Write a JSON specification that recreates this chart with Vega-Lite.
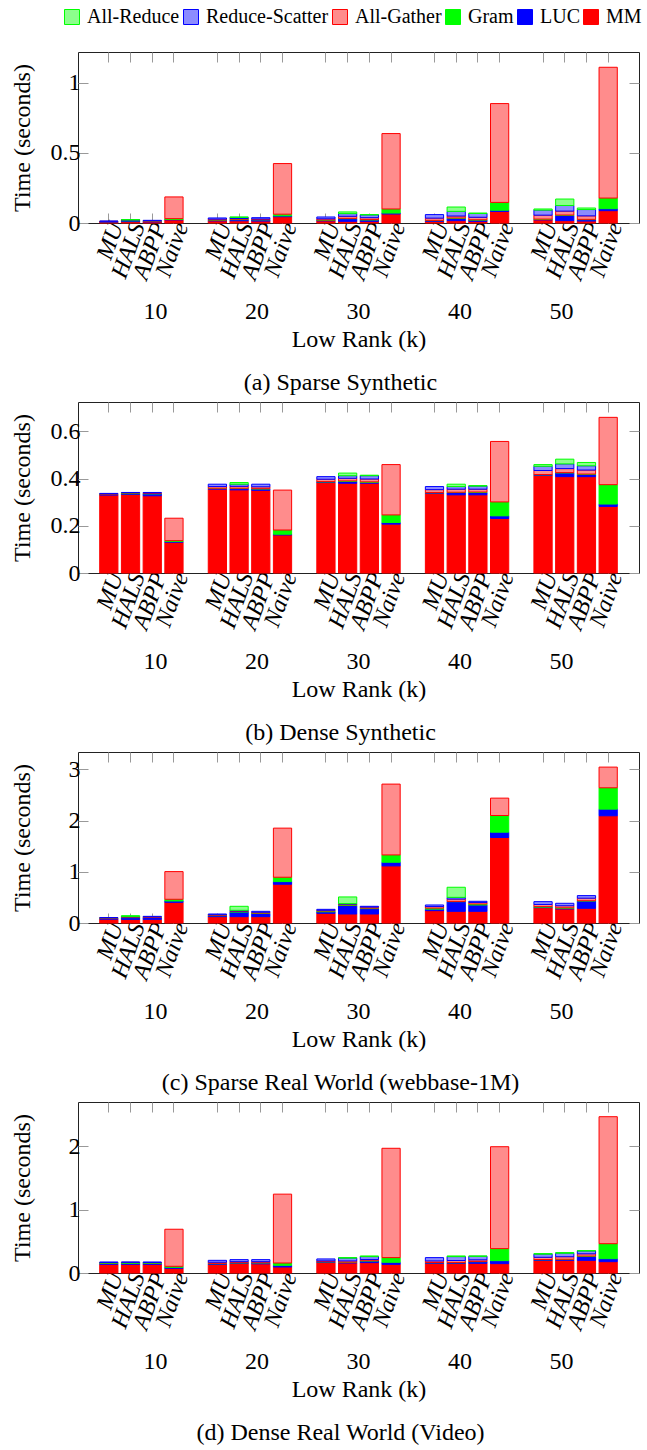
{
"$schema": "https://vega.github.io/schema/vega-lite/v6.json",
"padding": {"left": 9, "top": 7, "right": 0, "bottom": 0},
"background": "white",
"spacing": 5,
"config": {
  "view": {"stroke": "#222", "strokeWidth": 1},
  "font": "Liberation Serif",
  "axis": {"labelFont": "Liberation Serif", "titleFont": "Liberation Serif", "labelColor": "#000", "titleColor": "#000", "titleFontWeight": "normal", "grid": false, "domain": false, "tickColor": "#999", "labelFontSize": 24, "titleFontSize": 24},
  "legend": {"labelFont": "Liberation Serif", "labelColor": "#000"},
  "title": {"font": "Liberation Serif"},
  "text": {"font": "Liberation Serif"}
},
"data": {"values": [
{"p":"a","k":10,"m":"MU","MM":0.007,"LUC":0.003,"Gram":0.001,"All-Gather":0.001,"Reduce-Scatter":0.002,"All-Reduce":0},
{"p":"a","k":10,"m":"HALS","MM":0.010,"LUC":0.006,"Gram":0.004,"All-Gather":0.001,"Reduce-Scatter":0.001,"All-Reduce":0.002},
{"p":"a","k":10,"m":"ABPP","MM":0.008,"LUC":0.005,"Gram":0.001,"All-Gather":0.002,"Reduce-Scatter":0.003,"All-Reduce":0},
{"p":"a","k":10,"m":"Naive","MM":0.022,"LUC":0.003,"Gram":0.006,"All-Gather":0.155,"Reduce-Scatter":0,"All-Reduce":0},
{"p":"a","k":20,"m":"MU","MM":0.015,"LUC":0.006,"Gram":0.001,"All-Gather":0.006,"Reduce-Scatter":0.008,"All-Reduce":0},
{"p":"a","k":20,"m":"HALS","MM":0.016,"LUC":0.008,"Gram":0.003,"All-Gather":0.005,"Reduce-Scatter":0.008,"All-Reduce":0.003},
{"p":"a","k":20,"m":"ABPP","MM":0.014,"LUC":0.009,"Gram":0.001,"All-Gather":0.005,"Reduce-Scatter":0.009,"All-Reduce":0},
{"p":"a","k":20,"m":"Naive","MM":0.045,"LUC":0.006,"Gram":0.012,"All-Gather":0.361,"Reduce-Scatter":0,"All-Reduce":0},
{"p":"a","k":30,"m":"MU","MM":0.015,"LUC":0.005,"Gram":0.002,"All-Gather":0.008,"Reduce-Scatter":0.013,"All-Reduce":0},
{"p":"a","k":30,"m":"HALS","MM":0.012,"LUC":0.019,"Gram":0.002,"All-Gather":0.015,"Reduce-Scatter":0.019,"All-Reduce":0.012},
{"p":"a","k":30,"m":"ABPP","MM":0.012,"LUC":0.010,"Gram":0.002,"All-Gather":0.014,"Reduce-Scatter":0.020,"All-Reduce":0.002},
{"p":"a","k":30,"m":"Naive","MM":0.064,"LUC":0.007,"Gram":0.029,"All-Gather":0.538,"Reduce-Scatter":0,"All-Reduce":0},
{"p":"a","k":40,"m":"MU","MM":0.012,"LUC":0.005,"Gram":0.002,"All-Gather":0.016,"Reduce-Scatter":0.025,"All-Reduce":0},
{"p":"a","k":40,"m":"HALS","MM":0.017,"LUC":0.017,"Gram":0.002,"All-Gather":0.014,"Reduce-Scatter":0.033,"All-Reduce":0.031},
{"p":"a","k":40,"m":"ABPP","MM":0.012,"LUC":0.009,"Gram":0.002,"All-Gather":0.018,"Reduce-Scatter":0.027,"All-Reduce":0.003},
{"p":"a","k":40,"m":"Naive","MM":0.083,"LUC":0.008,"Gram":0.056,"All-Gather":0.705,"Reduce-Scatter":0,"All-Reduce":0},
{"p":"a","k":50,"m":"MU","MM":0.022,"LUC":0.004,"Gram":0.002,"All-Gather":0.028,"Reduce-Scatter":0.036,"All-Reduce":0.008},
{"p":"a","k":50,"m":"HALS","MM":0.017,"LUC":0.038,"Gram":0.002,"All-Gather":0.028,"Reduce-Scatter":0.040,"All-Reduce":0.046},
{"p":"a","k":50,"m":"ABPP","MM":0.014,"LUC":0.010,"Gram":0.002,"All-Gather":0.025,"Reduce-Scatter":0.045,"All-Reduce":0.011},
{"p":"a","k":50,"m":"Naive","MM":0.088,"LUC":0.014,"Gram":0.076,"All-Gather":0.933,"Reduce-Scatter":0,"All-Reduce":0},
{"p":"b","k":10,"m":"MU","MM":0.330,"LUC":0.003,"Gram":0.001,"All-Gather":0.001,"Reduce-Scatter":0.002,"All-Reduce":0},
{"p":"b","k":10,"m":"HALS","MM":0.333,"LUC":0.003,"Gram":0.003,"All-Gather":0.001,"Reduce-Scatter":0.001,"All-Reduce":0},
{"p":"b","k":10,"m":"ABPP","MM":0.327,"LUC":0.008,"Gram":0.002,"All-Gather":0.002,"Reduce-Scatter":0.002,"All-Reduce":0},
{"p":"b","k":10,"m":"Naive","MM":0.130,"LUC":0.003,"Gram":0.004,"All-Gather":0.095,"Reduce-Scatter":0,"All-Reduce":0},
{"p":"b","k":20,"m":"MU","MM":0.355,"LUC":0.003,"Gram":0.001,"All-Gather":0.007,"Reduce-Scatter":0.010,"All-Reduce":0},
{"p":"b","k":20,"m":"HALS","MM":0.352,"LUC":0.006,"Gram":0.001,"All-Gather":0.008,"Reduce-Scatter":0.009,"All-Reduce":0.007},
{"p":"b","k":20,"m":"ABPP","MM":0.350,"LUC":0.006,"Gram":0.001,"All-Gather":0.008,"Reduce-Scatter":0.011,"All-Reduce":0},
{"p":"b","k":20,"m":"Naive","MM":0.161,"LUC":0.003,"Gram":0.018,"All-Gather":0.169,"Reduce-Scatter":0,"All-Reduce":0},
{"p":"b","k":30,"m":"MU","MM":0.383,"LUC":0.003,"Gram":0.001,"All-Gather":0.010,"Reduce-Scatter":0.011,"All-Reduce":0},
{"p":"b","k":30,"m":"HALS","MM":0.380,"LUC":0.008,"Gram":0.002,"All-Gather":0.011,"Reduce-Scatter":0.011,"All-Reduce":0.011},
{"p":"b","k":30,"m":"ABPP","MM":0.380,"LUC":0.004,"Gram":0.002,"All-Gather":0.012,"Reduce-Scatter":0.014,"All-Reduce":0.002},
{"p":"b","k":30,"m":"Naive","MM":0.207,"LUC":0.007,"Gram":0.032,"All-Gather":0.213,"Reduce-Scatter":0,"All-Reduce":0},
{"p":"b","k":40,"m":"MU","MM":0.338,"LUC":0.002,"Gram":0.001,"All-Gather":0.012,"Reduce-Scatter":0.013,"All-Reduce":0},
{"p":"b","k":40,"m":"HALS","MM":0.331,"LUC":0.010,"Gram":0.001,"All-Gather":0.013,"Reduce-Scatter":0.011,"All-Reduce":0.010},
{"p":"b","k":40,"m":"ABPP","MM":0.331,"LUC":0.010,"Gram":0.002,"All-Gather":0.012,"Reduce-Scatter":0.013,"All-Reduce":0.002},
{"p":"b","k":40,"m":"Naive","MM":0.231,"LUC":0.011,"Gram":0.059,"All-Gather":0.256,"Reduce-Scatter":0,"All-Reduce":0},
{"p":"b","k":50,"m":"MU","MM":0.414,"LUC":0.002,"Gram":0.001,"All-Gather":0.017,"Reduce-Scatter":0.018,"All-Reduce":0.007},
{"p":"b","k":50,"m":"HALS","MM":0.408,"LUC":0.016,"Gram":0.001,"All-Gather":0.017,"Reduce-Scatter":0.020,"All-Reduce":0.020},
{"p":"b","k":50,"m":"ABPP","MM":0.408,"LUC":0.010,"Gram":0.001,"All-Gather":0.017,"Reduce-Scatter":0.018,"All-Reduce":0.014},
{"p":"b","k":50,"m":"Naive","MM":0.282,"LUC":0.010,"Gram":0.082,"All-Gather":0.285,"Reduce-Scatter":0,"All-Reduce":0},
{"p":"c","k":10,"m":"MU","MM":0.075,"LUC":0.018,"Gram":0.005,"All-Gather":0.004,"Reduce-Scatter":0.003,"All-Reduce":0},
{"p":"c","k":10,"m":"HALS","MM":0.072,"LUC":0.033,"Gram":0.010,"All-Gather":0.005,"Reduce-Scatter":0.008,"All-Reduce":0.015},
{"p":"c","k":10,"m":"ABPP","MM":0.072,"LUC":0.035,"Gram":0.005,"All-Gather":0.008,"Reduce-Scatter":0.010,"All-Reduce":0},
{"p":"c","k":10,"m":"Naive","MM":0.404,"LUC":0.026,"Gram":0.033,"All-Gather":0.541,"Reduce-Scatter":0,"All-Reduce":0},
{"p":"c","k":20,"m":"MU","MM":0.124,"LUC":0.020,"Gram":0.008,"All-Gather":0.010,"Reduce-Scatter":0.014,"All-Reduce":0},
{"p":"c","k":20,"m":"HALS","MM":0.124,"LUC":0.090,"Gram":0.010,"All-Gather":0.010,"Reduce-Scatter":0.014,"All-Reduce":0.078},
{"p":"c","k":20,"m":"ABPP","MM":0.124,"LUC":0.062,"Gram":0.008,"All-Gather":0.016,"Reduce-Scatter":0.018,"All-Reduce":0},
{"p":"c","k":20,"m":"Naive","MM":0.757,"LUC":0.052,"Gram":0.085,"All-Gather":0.959,"Reduce-Scatter":0,"All-Reduce":0},
{"p":"c","k":30,"m":"MU","MM":0.189,"LUC":0.030,"Gram":0.015,"All-Gather":0.015,"Reduce-Scatter":0.018,"All-Reduce":0},
{"p":"c","k":30,"m":"HALS","MM":0.176,"LUC":0.166,"Gram":0.012,"All-Gather":0.015,"Reduce-Scatter":0.010,"All-Reduce":0.130},
{"p":"c","k":30,"m":"ABPP","MM":0.176,"LUC":0.105,"Gram":0.010,"All-Gather":0.020,"Reduce-Scatter":0.015,"All-Reduce":0},
{"p":"c","k":30,"m":"Naive","MM":1.115,"LUC":0.072,"Gram":0.143,"All-Gather":1.383,"Reduce-Scatter":0,"All-Reduce":0},
{"p":"c","k":40,"m":"MU","MM":0.241,"LUC":0.030,"Gram":0.020,"All-Gather":0.030,"Reduce-Scatter":0.031,"All-Reduce":0},
{"p":"c","k":40,"m":"HALS","MM":0.228,"LUC":0.189,"Gram":0.005,"All-Gather":0.046,"Reduce-Scatter":0.033,"All-Reduce":0.197},
{"p":"c","k":40,"m":"ABPP","MM":0.228,"LUC":0.124,"Gram":0.020,"All-Gather":0.030,"Reduce-Scatter":0.022,"All-Reduce":0},
{"p":"c","k":40,"m":"Naive","MM":1.670,"LUC":0.104,"Gram":0.326,"All-Gather":0.339,"Reduce-Scatter":0,"All-Reduce":0},
{"p":"c","k":50,"m":"MU","MM":0.300,"LUC":0.010,"Gram":0.010,"All-Gather":0.042,"Reduce-Scatter":0.055,"All-Reduce":0},
{"p":"c","k":50,"m":"HALS","MM":0.274,"LUC":0.015,"Gram":0.008,"All-Gather":0.040,"Reduce-Scatter":0.048,"All-Reduce":0},
{"p":"c","k":50,"m":"ABPP","MM":0.287,"LUC":0.144,"Gram":0.004,"All-Gather":0.050,"Reduce-Scatter":0.050,"All-Reduce":0},
{"p":"c","k":50,"m":"Naive","MM":2.094,"LUC":0.130,"Gram":0.417,"All-Gather":0.404,"Reduce-Scatter":0,"All-Reduce":0},
{"p":"d","k":10,"m":"MU","MM":0.137,"LUC":0.015,"Gram":0.010,"All-Gather":0.004,"Reduce-Scatter":0.008,"All-Reduce":0},
{"p":"d","k":10,"m":"HALS","MM":0.137,"LUC":0.015,"Gram":0.012,"All-Gather":0.004,"Reduce-Scatter":0.006,"All-Reduce":0},
{"p":"d","k":10,"m":"ABPP","MM":0.137,"LUC":0.015,"Gram":0.010,"All-Gather":0.004,"Reduce-Scatter":0.008,"All-Reduce":0},
{"p":"d","k":10,"m":"Naive","MM":0.074,"LUC":0.016,"Gram":0.016,"All-Gather":0.585,"Reduce-Scatter":0,"All-Reduce":0},
{"p":"d","k":20,"m":"MU","MM":0.137,"LUC":0.010,"Gram":0.005,"All-Gather":0.018,"Reduce-Scatter":0.030,"All-Reduce":0},
{"p":"d","k":20,"m":"HALS","MM":0.153,"LUC":0.008,"Gram":0.003,"All-Gather":0.015,"Reduce-Scatter":0.032,"All-Reduce":0},
{"p":"d","k":20,"m":"ABPP","MM":0.145,"LUC":0.015,"Gram":0.003,"All-Gather":0.016,"Reduce-Scatter":0.032,"All-Reduce":0},
{"p":"d","k":20,"m":"Naive","MM":0.095,"LUC":0.026,"Gram":0.037,"All-Gather":1.087,"Reduce-Scatter":0,"All-Reduce":0},
{"p":"d","k":30,"m":"MU","MM":0.169,"LUC":0.008,"Gram":0.003,"All-Gather":0.012,"Reduce-Scatter":0.030,"All-Reduce":0},
{"p":"d","k":30,"m":"HALS","MM":0.158,"LUC":0.010,"Gram":0.003,"All-Gather":0.020,"Reduce-Scatter":0.045,"All-Reduce":0.007},
{"p":"d","k":30,"m":"ABPP","MM":0.164,"LUC":0.026,"Gram":0.004,"All-Gather":0.020,"Reduce-Scatter":0.045,"All-Reduce":0.010},
{"p":"d","k":30,"m":"Naive","MM":0.137,"LUC":0.032,"Gram":0.074,"All-Gather":1.726,"Reduce-Scatter":0,"All-Reduce":0},
{"p":"d","k":40,"m":"MU","MM":0.153,"LUC":0.010,"Gram":0.003,"All-Gather":0.025,"Reduce-Scatter":0.052,"All-Reduce":0},
{"p":"d","k":40,"m":"HALS","MM":0.153,"LUC":0.010,"Gram":0.004,"All-Gather":0.030,"Reduce-Scatter":0.062,"All-Reduce":0.010},
{"p":"d","k":40,"m":"ABPP","MM":0.153,"LUC":0.026,"Gram":0.004,"All-Gather":0.025,"Reduce-Scatter":0.055,"All-Reduce":0.006},
{"p":"d","k":40,"m":"Naive","MM":0.148,"LUC":0.047,"Gram":0.190,"All-Gather":1.609,"Reduce-Scatter":0,"All-Reduce":0},
{"p":"d","k":50,"m":"MU","MM":0.200,"LUC":0.010,"Gram":0.003,"All-Gather":0.035,"Reduce-Scatter":0.050,"All-Reduce":0.008},
{"p":"d","k":50,"m":"HALS","MM":0.200,"LUC":0.012,"Gram":0.005,"All-Gather":0.040,"Reduce-Scatter":0.055,"All-Reduce":0.010},
{"p":"d","k":50,"m":"ABPP","MM":0.200,"LUC":0.063,"Gram":0.005,"All-Gather":0.035,"Reduce-Scatter":0.045,"All-Reduce":0.006},
{"p":"d","k":50,"m":"Naive","MM":0.179,"LUC":0.047,"Gram":0.237,"All-Gather":2.005,"Reduce-Scatter":0,"All-Reduce":0}
]},
"vconcat": [
{
  "width": 561, "height": 171,
  "title": {"text": "(a) Sparse Synthetic", "orient": "bottom", "anchor": "middle", "frame": "group", "font": "Liberation Serif", "fontSize": 24, "fontWeight": "normal", "color": "#000", "dx": -18, "offset": 20},
  "transform": [
    {"filter": "datum.p == 'a'"},
    {"fold": ["MM","LUC","Gram","All-Gather","Reduce-Scatter","All-Reduce"], "as": ["comp","t"]},
    {"filter": "datum.t > 0"},
    {"calculate": "indexof(['MM','LUC','Gram','All-Gather','Reduce-Scatter','All-Reduce'], datum.comp)", "as": "ord"},
    {"calculate": "datum.k + '-' + datum.m", "as": "key"}
  ],
  "layer": [
    {
      "mark": {"type": "bar", "strokeWidth": 1},
      "encoding": {
        "x": {"field": "key", "type": "nominal", "scale": {"type": "band", "domain": ["10-MU","10-HALS","10-ABPP","10-Naive","g1","20-MU","20-HALS","20-ABPP","20-Naive","g2","30-MU","30-HALS","30-ABPP","30-Naive","g3","40-MU","40-HALS","40-ABPP","40-Naive","g4","50-MU","50-HALS","50-ABPP","50-Naive"], "paddingInner": 0.16, "paddingOuter": 1.895},
          "axis": {"orient": "bottom", "values": ["10-MU","10-HALS","10-ABPP","10-Naive","20-MU","20-HALS","20-ABPP","20-Naive","30-MU","30-HALS","30-ABPP","30-Naive","40-MU","40-HALS","40-ABPP","40-Naive","50-MU","50-HALS","50-ABPP","50-Naive"], "labelExpr": "split(datum.value, '-')[1]", "labelAngle": -70, "labelAlign": "right", "labelBaseline": "middle", "labelFont": "Liberation Serif", "labelFontSize": 24, "labelFontStyle": "italic", "labelColor": "#000", "labelPadding": 10, "labelOffset": 8, "tickSize": -10, "tickColor": "#999", "domain": false, "grid": false, "title": null}},
        "y": {"field": "t", "type": "quantitative", "stack": "zero", "scale": {"domain": [0, 1.22], "nice": false},
          "axis": {"orient": "left", "values": [0, 0.5, 1], "format": "~g", "labelFont": "Liberation Serif", "labelFontSize": 24, "labelColor": "#000", "labelPadding": 8, "tickSize": -10, "tickColor": "#999", "domain": false, "grid": false, "title": "Time (seconds)", "titleFont": "Liberation Serif", "titleFontSize": 24, "titleFontWeight": "normal", "titleColor": "#000", "titleX": -44}},
        "fill": {"field": "comp", "type": "nominal", "scale": {"domain": ["All-Reduce","Reduce-Scatter","All-Gather","Gram","LUC","MM"], "range": ["#8cff8c","#8c8cff","#ff8c8c","#00ff00","#0000ff","#ff0000"]},
          "legend": {"title": null, "orient": "none", "legendX": -16, "legendY": -45, "direction": "horizontal", "columns": 6, "symbolType": "square", "symbolSize": 225, "symbolStrokeWidth": 1, "labelFont": "Liberation Serif", "labelFontSize": 20, "labelColor": "#000", "labelOffset": 5, "columnPadding": 1, "padding": 0}},
        "stroke": {"field": "comp", "type": "nominal", "scale": {"domain": ["All-Reduce","Reduce-Scatter","All-Gather","Gram","LUC","MM"], "range": ["#00ff00","#0000ff","#ff0000","#00ff00","#0000ff","#ff0000"]},
          "legend": {"title": null, "orient": "none", "legendX": -16, "legendY": -45, "direction": "horizontal", "columns": 6, "symbolType": "square", "symbolSize": 225, "symbolStrokeWidth": 1, "labelFont": "Liberation Serif", "labelFontSize": 20, "labelColor": "#000", "labelOffset": 5, "columnPadding": 1, "padding": 0}},
        "order": {"field": "ord", "type": "quantitative"}
      }
    },
    {
      "mark": {"type": "text", "text": " ", "opacity": 0},
      "encoding": {
        "x": {"field": "k", "type": "ordinal", "scale": {"type": "band", "paddingInner": 0, "paddingOuter": 0.2635},
          "axis": {"orient": "bottom", "ticks": false, "domain": false, "grid": false, "labelAngle": 0, "labelAlign": "center", "labelBaseline": "top", "labelFont": "Liberation Serif", "labelFontSize": 24, "labelColor": "#000", "labelPadding": 76, "title": "Low Rank (k)", "titleFont": "Liberation Serif", "titleFontSize": 24, "titleFontWeight": "normal", "titleColor": "#000", "titlePadding": 4}}
      }
    },
    {
      "mark": {"type": "point", "opacity": 0},
      "encoding": {
        "x": {"field": "key", "type": "nominal", "scale": {"type": "band", "domain": ["10-MU","10-HALS","10-ABPP","10-Naive","g1","20-MU","20-HALS","20-ABPP","20-Naive","g2","30-MU","30-HALS","30-ABPP","30-Naive","g3","40-MU","40-HALS","40-ABPP","40-Naive","g4","50-MU","50-HALS","50-ABPP","50-Naive"], "paddingInner": 0.16, "paddingOuter": 1.895},
          "axis": {"orient": "top", "values": ["10-MU","10-HALS","10-ABPP","10-Naive","20-MU","20-HALS","20-ABPP","20-Naive","30-MU","30-HALS","30-ABPP","30-Naive","40-MU","40-HALS","40-ABPP","40-Naive","50-MU","50-HALS","50-ABPP","50-Naive"], "labels": false, "tickSize": -10, "tickColor": "#999", "domain": false, "grid": false, "title": null}},
        "y": {"field": "t", "type": "quantitative", "axis": {"orient": "right", "values": [0, 0.5, 1], "labels": false, "tickSize": -10, "tickColor": "#999", "domain": false, "grid": false, "title": null}}
      }
    }
  ],
  "resolve": {"scale": {"x": "independent"}, "axis": {"x": "independent", "y": "independent"}}
},
{
  "width": 561, "height": 171,
  "title": {"text": "(b) Dense Synthetic", "orient": "bottom", "anchor": "middle", "frame": "group", "font": "Liberation Serif", "fontSize": 24, "fontWeight": "normal", "color": "#000", "dx": -18, "offset": 20},
  "transform": [
    {"filter": "datum.p == 'b'"},
    {"fold": ["MM","LUC","Gram","All-Gather","Reduce-Scatter","All-Reduce"], "as": ["comp","t"]},
    {"filter": "datum.t > 0"},
    {"calculate": "indexof(['MM','LUC','Gram','All-Gather','Reduce-Scatter','All-Reduce'], datum.comp)", "as": "ord"},
    {"calculate": "datum.k + '-' + datum.m", "as": "key"}
  ],
  "layer": [
    {
      "mark": {"type": "bar", "strokeWidth": 1},
      "encoding": {
        "x": {"field": "key", "type": "nominal", "scale": {"type": "band", "domain": ["10-MU","10-HALS","10-ABPP","10-Naive","g1","20-MU","20-HALS","20-ABPP","20-Naive","g2","30-MU","30-HALS","30-ABPP","30-Naive","g3","40-MU","40-HALS","40-ABPP","40-Naive","g4","50-MU","50-HALS","50-ABPP","50-Naive"], "paddingInner": 0.16, "paddingOuter": 1.895},
          "axis": {"orient": "bottom", "values": ["10-MU","10-HALS","10-ABPP","10-Naive","20-MU","20-HALS","20-ABPP","20-Naive","30-MU","30-HALS","30-ABPP","30-Naive","40-MU","40-HALS","40-ABPP","40-Naive","50-MU","50-HALS","50-ABPP","50-Naive"], "labelExpr": "split(datum.value, '-')[1]", "labelAngle": -70, "labelAlign": "right", "labelBaseline": "middle", "labelFont": "Liberation Serif", "labelFontSize": 24, "labelFontStyle": "italic", "labelColor": "#000", "labelPadding": 10, "labelOffset": 8, "tickSize": -10, "tickColor": "#999", "domain": false, "grid": false, "title": null}},
        "y": {"field": "t", "type": "quantitative", "stack": "zero", "scale": {"domain": [0, 0.724], "nice": false},
          "axis": {"orient": "left", "values": [0, 0.2, 0.4, 0.6], "format": "~g", "labelFont": "Liberation Serif", "labelFontSize": 24, "labelColor": "#000", "labelPadding": 8, "tickSize": -10, "tickColor": "#999", "domain": false, "grid": false, "title": "Time (seconds)", "titleFont": "Liberation Serif", "titleFontSize": 24, "titleFontWeight": "normal", "titleColor": "#000", "titleX": -44}},
        "fill": {"field": "comp", "type": "nominal", "scale": {"domain": ["All-Reduce","Reduce-Scatter","All-Gather","Gram","LUC","MM"], "range": ["#8cff8c","#8c8cff","#ff8c8c","#00ff00","#0000ff","#ff0000"]},
          "legend": {"title": null, "orient": "none", "legendX": -16, "legendY": -45, "direction": "horizontal", "columns": 6, "symbolType": "square", "symbolSize": 225, "symbolStrokeWidth": 1, "labelFont": "Liberation Serif", "labelFontSize": 20, "labelColor": "#000", "labelOffset": 5, "columnPadding": 1, "padding": 0}},
        "stroke": {"field": "comp", "type": "nominal", "scale": {"domain": ["All-Reduce","Reduce-Scatter","All-Gather","Gram","LUC","MM"], "range": ["#00ff00","#0000ff","#ff0000","#00ff00","#0000ff","#ff0000"]},
          "legend": {"title": null, "orient": "none", "legendX": -16, "legendY": -45, "direction": "horizontal", "columns": 6, "symbolType": "square", "symbolSize": 225, "symbolStrokeWidth": 1, "labelFont": "Liberation Serif", "labelFontSize": 20, "labelColor": "#000", "labelOffset": 5, "columnPadding": 1, "padding": 0}},
        "order": {"field": "ord", "type": "quantitative"}
      }
    },
    {
      "mark": {"type": "text", "text": " ", "opacity": 0},
      "encoding": {
        "x": {"field": "k", "type": "ordinal", "scale": {"type": "band", "paddingInner": 0, "paddingOuter": 0.2635},
          "axis": {"orient": "bottom", "ticks": false, "domain": false, "grid": false, "labelAngle": 0, "labelAlign": "center", "labelBaseline": "top", "labelFont": "Liberation Serif", "labelFontSize": 24, "labelColor": "#000", "labelPadding": 76, "title": "Low Rank (k)", "titleFont": "Liberation Serif", "titleFontSize": 24, "titleFontWeight": "normal", "titleColor": "#000", "titlePadding": 4}}
      }
    },
    {
      "mark": {"type": "point", "opacity": 0},
      "encoding": {
        "x": {"field": "key", "type": "nominal", "scale": {"type": "band", "domain": ["10-MU","10-HALS","10-ABPP","10-Naive","g1","20-MU","20-HALS","20-ABPP","20-Naive","g2","30-MU","30-HALS","30-ABPP","30-Naive","g3","40-MU","40-HALS","40-ABPP","40-Naive","g4","50-MU","50-HALS","50-ABPP","50-Naive"], "paddingInner": 0.16, "paddingOuter": 1.895},
          "axis": {"orient": "top", "values": ["10-MU","10-HALS","10-ABPP","10-Naive","20-MU","20-HALS","20-ABPP","20-Naive","30-MU","30-HALS","30-ABPP","30-Naive","40-MU","40-HALS","40-ABPP","40-Naive","50-MU","50-HALS","50-ABPP","50-Naive"], "labels": false, "tickSize": -10, "tickColor": "#999", "domain": false, "grid": false, "title": null}},
        "y": {"field": "t", "type": "quantitative", "axis": {"orient": "right", "values": [0, 0.2, 0.4, 0.6], "labels": false, "tickSize": -10, "tickColor": "#999", "domain": false, "grid": false, "title": null}}
      }
    }
  ],
  "resolve": {"scale": {"x": "independent"}, "axis": {"x": "independent", "y": "independent"}}
},
{
  "width": 561, "height": 171,
  "title": {"text": "(c) Sparse Real World (webbase-1M)", "orient": "bottom", "anchor": "middle", "frame": "group", "font": "Liberation Serif", "fontSize": 24, "fontWeight": "normal", "color": "#000", "dx": -18, "offset": 20},
  "transform": [
    {"filter": "datum.p == 'c'"},
    {"fold": ["MM","LUC","Gram","All-Gather","Reduce-Scatter","All-Reduce"], "as": ["comp","t"]},
    {"filter": "datum.t > 0"},
    {"calculate": "indexof(['MM','LUC','Gram','All-Gather','Reduce-Scatter','All-Reduce'], datum.comp)", "as": "ord"},
    {"calculate": "datum.k + '-' + datum.m", "as": "key"}
  ],
  "layer": [
    {
      "mark": {"type": "bar", "strokeWidth": 1},
      "encoding": {
        "x": {"field": "key", "type": "nominal", "scale": {"type": "band", "domain": ["10-MU","10-HALS","10-ABPP","10-Naive","g1","20-MU","20-HALS","20-ABPP","20-Naive","g2","30-MU","30-HALS","30-ABPP","30-Naive","g3","40-MU","40-HALS","40-ABPP","40-Naive","g4","50-MU","50-HALS","50-ABPP","50-Naive"], "paddingInner": 0.16, "paddingOuter": 1.895},
          "axis": {"orient": "bottom", "values": ["10-MU","10-HALS","10-ABPP","10-Naive","20-MU","20-HALS","20-ABPP","20-Naive","30-MU","30-HALS","30-ABPP","30-Naive","40-MU","40-HALS","40-ABPP","40-Naive","50-MU","50-HALS","50-ABPP","50-Naive"], "labelExpr": "split(datum.value, '-')[1]", "labelAngle": -70, "labelAlign": "right", "labelBaseline": "middle", "labelFont": "Liberation Serif", "labelFontSize": 24, "labelFontStyle": "italic", "labelColor": "#000", "labelPadding": 10, "labelOffset": 8, "tickSize": -10, "tickColor": "#999", "domain": false, "grid": false, "title": null}},
        "y": {"field": "t", "type": "quantitative", "stack": "zero", "scale": {"domain": [0, 3.34], "nice": false},
          "axis": {"orient": "left", "values": [0, 1, 2, 3], "format": "~g", "labelFont": "Liberation Serif", "labelFontSize": 24, "labelColor": "#000", "labelPadding": 8, "tickSize": -10, "tickColor": "#999", "domain": false, "grid": false, "title": "Time (seconds)", "titleFont": "Liberation Serif", "titleFontSize": 24, "titleFontWeight": "normal", "titleColor": "#000", "titleX": -44}},
        "fill": {"field": "comp", "type": "nominal", "scale": {"domain": ["All-Reduce","Reduce-Scatter","All-Gather","Gram","LUC","MM"], "range": ["#8cff8c","#8c8cff","#ff8c8c","#00ff00","#0000ff","#ff0000"]},
          "legend": {"title": null, "orient": "none", "legendX": -16, "legendY": -45, "direction": "horizontal", "columns": 6, "symbolType": "square", "symbolSize": 225, "symbolStrokeWidth": 1, "labelFont": "Liberation Serif", "labelFontSize": 20, "labelColor": "#000", "labelOffset": 5, "columnPadding": 1, "padding": 0}},
        "stroke": {"field": "comp", "type": "nominal", "scale": {"domain": ["All-Reduce","Reduce-Scatter","All-Gather","Gram","LUC","MM"], "range": ["#00ff00","#0000ff","#ff0000","#00ff00","#0000ff","#ff0000"]},
          "legend": {"title": null, "orient": "none", "legendX": -16, "legendY": -45, "direction": "horizontal", "columns": 6, "symbolType": "square", "symbolSize": 225, "symbolStrokeWidth": 1, "labelFont": "Liberation Serif", "labelFontSize": 20, "labelColor": "#000", "labelOffset": 5, "columnPadding": 1, "padding": 0}},
        "order": {"field": "ord", "type": "quantitative"}
      }
    },
    {
      "mark": {"type": "text", "text": " ", "opacity": 0},
      "encoding": {
        "x": {"field": "k", "type": "ordinal", "scale": {"type": "band", "paddingInner": 0, "paddingOuter": 0.2635},
          "axis": {"orient": "bottom", "ticks": false, "domain": false, "grid": false, "labelAngle": 0, "labelAlign": "center", "labelBaseline": "top", "labelFont": "Liberation Serif", "labelFontSize": 24, "labelColor": "#000", "labelPadding": 76, "title": "Low Rank (k)", "titleFont": "Liberation Serif", "titleFontSize": 24, "titleFontWeight": "normal", "titleColor": "#000", "titlePadding": 4}}
      }
    },
    {
      "mark": {"type": "point", "opacity": 0},
      "encoding": {
        "x": {"field": "key", "type": "nominal", "scale": {"type": "band", "domain": ["10-MU","10-HALS","10-ABPP","10-Naive","g1","20-MU","20-HALS","20-ABPP","20-Naive","g2","30-MU","30-HALS","30-ABPP","30-Naive","g3","40-MU","40-HALS","40-ABPP","40-Naive","g4","50-MU","50-HALS","50-ABPP","50-Naive"], "paddingInner": 0.16, "paddingOuter": 1.895},
          "axis": {"orient": "top", "values": ["10-MU","10-HALS","10-ABPP","10-Naive","20-MU","20-HALS","20-ABPP","20-Naive","30-MU","30-HALS","30-ABPP","30-Naive","40-MU","40-HALS","40-ABPP","40-Naive","50-MU","50-HALS","50-ABPP","50-Naive"], "labels": false, "tickSize": -10, "tickColor": "#999", "domain": false, "grid": false, "title": null}},
        "y": {"field": "t", "type": "quantitative", "axis": {"orient": "right", "values": [0, 1, 2, 3], "labels": false, "tickSize": -10, "tickColor": "#999", "domain": false, "grid": false, "title": null}}
      }
    }
  ],
  "resolve": {"scale": {"x": "independent"}, "axis": {"x": "independent", "y": "independent"}}
},
{
  "width": 561, "height": 171,
  "title": {"text": "(d) Dense Real World (Video)", "orient": "bottom", "anchor": "middle", "frame": "group", "font": "Liberation Serif", "fontSize": 24, "fontWeight": "normal", "color": "#000", "dx": -18, "offset": 20},
  "transform": [
    {"filter": "datum.p == 'd'"},
    {"fold": ["MM","LUC","Gram","All-Gather","Reduce-Scatter","All-Reduce"], "as": ["comp","t"]},
    {"filter": "datum.t > 0"},
    {"calculate": "indexof(['MM','LUC','Gram','All-Gather','Reduce-Scatter','All-Reduce'], datum.comp)", "as": "ord"},
    {"calculate": "datum.k + '-' + datum.m", "as": "key"}
  ],
  "layer": [
    {
      "mark": {"type": "bar", "strokeWidth": 1},
      "encoding": {
        "x": {"field": "key", "type": "nominal", "scale": {"type": "band", "domain": ["10-MU","10-HALS","10-ABPP","10-Naive","g1","20-MU","20-HALS","20-ABPP","20-Naive","g2","30-MU","30-HALS","30-ABPP","30-Naive","g3","40-MU","40-HALS","40-ABPP","40-Naive","g4","50-MU","50-HALS","50-ABPP","50-Naive"], "paddingInner": 0.16, "paddingOuter": 1.895},
          "axis": {"orient": "bottom", "values": ["10-MU","10-HALS","10-ABPP","10-Naive","20-MU","20-HALS","20-ABPP","20-Naive","30-MU","30-HALS","30-ABPP","30-Naive","40-MU","40-HALS","40-ABPP","40-Naive","50-MU","50-HALS","50-ABPP","50-Naive"], "labelExpr": "split(datum.value, '-')[1]", "labelAngle": -70, "labelAlign": "right", "labelBaseline": "middle", "labelFont": "Liberation Serif", "labelFontSize": 24, "labelFontStyle": "italic", "labelColor": "#000", "labelPadding": 10, "labelOffset": 8, "tickSize": -10, "tickColor": "#999", "domain": false, "grid": false, "title": null}},
        "y": {"field": "t", "type": "quantitative", "stack": "zero", "scale": {"domain": [0, 2.70], "nice": false},
          "axis": {"orient": "left", "values": [0, 1, 2], "format": "~g", "labelFont": "Liberation Serif", "labelFontSize": 24, "labelColor": "#000", "labelPadding": 8, "tickSize": -10, "tickColor": "#999", "domain": false, "grid": false, "title": "Time (seconds)", "titleFont": "Liberation Serif", "titleFontSize": 24, "titleFontWeight": "normal", "titleColor": "#000", "titleX": -44}},
        "fill": {"field": "comp", "type": "nominal", "scale": {"domain": ["All-Reduce","Reduce-Scatter","All-Gather","Gram","LUC","MM"], "range": ["#8cff8c","#8c8cff","#ff8c8c","#00ff00","#0000ff","#ff0000"]},
          "legend": {"title": null, "orient": "none", "legendX": -16, "legendY": -45, "direction": "horizontal", "columns": 6, "symbolType": "square", "symbolSize": 225, "symbolStrokeWidth": 1, "labelFont": "Liberation Serif", "labelFontSize": 20, "labelColor": "#000", "labelOffset": 5, "columnPadding": 1, "padding": 0}},
        "stroke": {"field": "comp", "type": "nominal", "scale": {"domain": ["All-Reduce","Reduce-Scatter","All-Gather","Gram","LUC","MM"], "range": ["#00ff00","#0000ff","#ff0000","#00ff00","#0000ff","#ff0000"]},
          "legend": {"title": null, "orient": "none", "legendX": -16, "legendY": -45, "direction": "horizontal", "columns": 6, "symbolType": "square", "symbolSize": 225, "symbolStrokeWidth": 1, "labelFont": "Liberation Serif", "labelFontSize": 20, "labelColor": "#000", "labelOffset": 5, "columnPadding": 1, "padding": 0}},
        "order": {"field": "ord", "type": "quantitative"}
      }
    },
    {
      "mark": {"type": "text", "text": " ", "opacity": 0},
      "encoding": {
        "x": {"field": "k", "type": "ordinal", "scale": {"type": "band", "paddingInner": 0, "paddingOuter": 0.2635},
          "axis": {"orient": "bottom", "ticks": false, "domain": false, "grid": false, "labelAngle": 0, "labelAlign": "center", "labelBaseline": "top", "labelFont": "Liberation Serif", "labelFontSize": 24, "labelColor": "#000", "labelPadding": 76, "title": "Low Rank (k)", "titleFont": "Liberation Serif", "titleFontSize": 24, "titleFontWeight": "normal", "titleColor": "#000", "titlePadding": 4}}
      }
    },
    {
      "mark": {"type": "point", "opacity": 0},
      "encoding": {
        "x": {"field": "key", "type": "nominal", "scale": {"type": "band", "domain": ["10-MU","10-HALS","10-ABPP","10-Naive","g1","20-MU","20-HALS","20-ABPP","20-Naive","g2","30-MU","30-HALS","30-ABPP","30-Naive","g3","40-MU","40-HALS","40-ABPP","40-Naive","g4","50-MU","50-HALS","50-ABPP","50-Naive"], "paddingInner": 0.16, "paddingOuter": 1.895},
          "axis": {"orient": "top", "values": ["10-MU","10-HALS","10-ABPP","10-Naive","20-MU","20-HALS","20-ABPP","20-Naive","30-MU","30-HALS","30-ABPP","30-Naive","40-MU","40-HALS","40-ABPP","40-Naive","50-MU","50-HALS","50-ABPP","50-Naive"], "labels": false, "tickSize": -10, "tickColor": "#999", "domain": false, "grid": false, "title": null}},
        "y": {"field": "t", "type": "quantitative", "axis": {"orient": "right", "values": [0, 1, 2], "labels": false, "tickSize": -10, "tickColor": "#999", "domain": false, "grid": false, "title": null}}
      }
    }
  ],
  "resolve": {"scale": {"x": "independent"}, "axis": {"x": "independent", "y": "independent"}}
}
]
}
